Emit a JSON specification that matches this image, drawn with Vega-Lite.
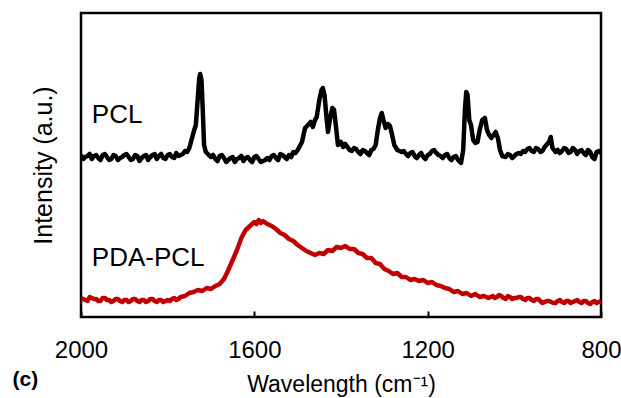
{
  "$schema": "https://vega.github.io/schema/vega-lite/v6.json",
  "width": 520,
  "height": 304,
  "autosize": {"type": "none"},
  "padding": {"left": 81, "top": 13, "right": 20, "bottom": 81},
  "background": "white",
  "config": {
    "font": "Liberation Sans",
    "view": {"stroke": "#000000", "strokeWidth": 2.5}
  },
  "datasets": {
    "spectra": [
      {"s":"PCL","w":2000,"v":162},{"s":"PCL","w":1990,"v":160},{"s":"PCL","w":1980,"v":163},{"s":"PCL","w":1970,"v":161},{"s":"PCL","w":1960,"v":159},{"s":"PCL","w":1950,"v":162},{"s":"PCL","w":1940,"v":160},{"s":"PCL","w":1930,"v":158},{"s":"PCL","w":1920,"v":161},{"s":"PCL","w":1910,"v":159},{"s":"PCL","w":1900,"v":162},{"s":"PCL","w":1890,"v":160},{"s":"PCL","w":1880,"v":158},{"s":"PCL","w":1870,"v":161},{"s":"PCL","w":1860,"v":159},{"s":"PCL","w":1850,"v":162},{"s":"PCL","w":1840,"v":160},{"s":"PCL","w":1830,"v":163},{"s":"PCL","w":1820,"v":161},{"s":"PCL","w":1810,"v":159},{"s":"PCL","w":1800,"v":162},{"s":"PCL","w":1790,"v":160},{"s":"PCL","w":1780,"v":164},{"s":"PCL","w":1770,"v":162},{"s":"PCL","w":1760,"v":166},{"s":"PCL","w":1750,"v":169},{"s":"PCL","w":1745,"v":177},{"s":"PCL","w":1740,"v":185},{"s":"PCL","w":1735,"v":192},{"s":"PCL","w":1730,"v":222},{"s":"PCL","w":1727,"v":239},{"s":"PCL","w":1725,"v":243},{"s":"PCL","w":1722,"v":237},{"s":"PCL","w":1719,"v":207},{"s":"PCL","w":1716,"v":172},{"s":"PCL","w":1712,"v":165},{"s":"PCL","w":1705,"v":162},{"s":"PCL","w":1700,"v":160},{"s":"PCL","w":1690,"v":158},{"s":"PCL","w":1680,"v":161},{"s":"PCL","w":1670,"v":159},{"s":"PCL","w":1660,"v":157},{"s":"PCL","w":1650,"v":160},{"s":"PCL","w":1640,"v":158},{"s":"PCL","w":1630,"v":161},{"s":"PCL","w":1620,"v":159},{"s":"PCL","w":1610,"v":157},{"s":"PCL","w":1600,"v":160},{"s":"PCL","w":1590,"v":158},{"s":"PCL","w":1580,"v":156},{"s":"PCL","w":1570,"v":159},{"s":"PCL","w":1560,"v":161},{"s":"PCL","w":1550,"v":159},{"s":"PCL","w":1540,"v":163},{"s":"PCL","w":1530,"v":160},{"s":"PCL","w":1520,"v":162},{"s":"PCL","w":1510,"v":165},{"s":"PCL","w":1500,"v":167},{"s":"PCL","w":1490,"v":175},{"s":"PCL","w":1483,"v":189},{"s":"PCL","w":1476,"v":192},{"s":"PCL","w":1470,"v":195},{"s":"PCL","w":1465,"v":190},{"s":"PCL","w":1460,"v":197},{"s":"PCL","w":1456,"v":200},{"s":"PCL","w":1450,"v":217},{"s":"PCL","w":1445,"v":227},{"s":"PCL","w":1442,"v":229},{"s":"PCL","w":1438,"v":222},{"s":"PCL","w":1434,"v":202},{"s":"PCL","w":1430,"v":185},{"s":"PCL","w":1425,"v":199},{"s":"PCL","w":1420,"v":209},{"s":"PCL","w":1416,"v":207},{"s":"PCL","w":1412,"v":192},{"s":"PCL","w":1407,"v":172},{"s":"PCL","w":1400,"v":175},{"s":"PCL","w":1395,"v":170},{"s":"PCL","w":1390,"v":173},{"s":"PCL","w":1380,"v":167},{"s":"PCL","w":1370,"v":169},{"s":"PCL","w":1360,"v":165},{"s":"PCL","w":1350,"v":167},{"s":"PCL","w":1340,"v":164},{"s":"PCL","w":1330,"v":167},{"s":"PCL","w":1320,"v":172},{"s":"PCL","w":1315,"v":187},{"s":"PCL","w":1310,"v":199},{"s":"PCL","w":1306,"v":204},{"s":"PCL","w":1302,"v":197},{"s":"PCL","w":1297,"v":189},{"s":"PCL","w":1292,"v":193},{"s":"PCL","w":1287,"v":191},{"s":"PCL","w":1282,"v":182},{"s":"PCL","w":1277,"v":172},{"s":"PCL","w":1270,"v":167},{"s":"PCL","w":1260,"v":165},{"s":"PCL","w":1250,"v":163},{"s":"PCL","w":1240,"v":164},{"s":"PCL","w":1230,"v":161},{"s":"PCL","w":1220,"v":162},{"s":"PCL","w":1210,"v":160},{"s":"PCL","w":1200,"v":162},{"s":"PCL","w":1190,"v":166},{"s":"PCL","w":1180,"v":164},{"s":"PCL","w":1170,"v":161},{"s":"PCL","w":1160,"v":162},{"s":"PCL","w":1150,"v":159},{"s":"PCL","w":1140,"v":160},{"s":"PCL","w":1130,"v":157},{"s":"PCL","w":1123,"v":154},{"s":"PCL","w":1118,"v":167},{"s":"PCL","w":1114,"v":207},{"s":"PCL","w":1111,"v":225},{"s":"PCL","w":1108,"v":222},{"s":"PCL","w":1104,"v":197},{"s":"PCL","w":1100,"v":192},{"s":"PCL","w":1095,"v":177},{"s":"PCL","w":1090,"v":174},{"s":"PCL","w":1085,"v":175},{"s":"PCL","w":1080,"v":187},{"s":"PCL","w":1074,"v":197},{"s":"PCL","w":1068,"v":199},{"s":"PCL","w":1063,"v":187},{"s":"PCL","w":1058,"v":182},{"s":"PCL","w":1053,"v":179},{"s":"PCL","w":1048,"v":182},{"s":"PCL","w":1043,"v":185},{"s":"PCL","w":1038,"v":179},{"s":"PCL","w":1033,"v":167},{"s":"PCL","w":1028,"v":161},{"s":"PCL","w":1020,"v":160},{"s":"PCL","w":1010,"v":162},{"s":"PCL","w":1000,"v":161},{"s":"PCL","w":990,"v":164},{"s":"PCL","w":980,"v":166},{"s":"PCL","w":970,"v":168},{"s":"PCL","w":960,"v":166},{"s":"PCL","w":950,"v":169},{"s":"PCL","w":940,"v":165},{"s":"PCL","w":930,"v":170},{"s":"PCL","w":920,"v":175},{"s":"PCL","w":916,"v":180},{"s":"PCL","w":912,"v":169},{"s":"PCL","w":905,"v":165},{"s":"PCL","w":900,"v":167},{"s":"PCL","w":890,"v":166},{"s":"PCL","w":880,"v":168},{"s":"PCL","w":870,"v":165},{"s":"PCL","w":860,"v":167},{"s":"PCL","w":850,"v":166},{"s":"PCL","w":840,"v":164},{"s":"PCL","w":830,"v":167},{"s":"PCL","w":820,"v":160},{"s":"PCL","w":810,"v":165},{"s":"PCL","w":800,"v":164},
      {"s":"PCL","w":1995,"v":158},{"s":"PCL","w":1985,"v":161},{"s":"PCL","w":1975,"v":158},{"s":"PCL","w":1965,"v":162},{"s":"PCL","w":1955,"v":157},{"s":"PCL","w":1945,"v":163},{"s":"PCL","w":1935,"v":157},{"s":"PCL","w":1925,"v":162},{"s":"PCL","w":1915,"v":157},{"s":"PCL","w":1905,"v":160},{"s":"PCL","w":1895,"v":163},{"s":"PCL","w":1885,"v":157},{"s":"PCL","w":1875,"v":162},{"s":"PCL","w":1865,"v":156},{"s":"PCL","w":1855,"v":161},{"s":"PCL","w":1845,"v":157},{"s":"PCL","w":1835,"v":162},{"s":"PCL","w":1825,"v":158},{"s":"PCL","w":1815,"v":163},{"s":"PCL","w":1805,"v":158},{"s":"PCL","w":1795,"v":163},{"s":"PCL","w":1785,"v":159},{"s":"PCL","w":1775,"v":161},{"s":"PCL","w":1765,"v":163},{"s":"PCL","w":1755,"v":165},
      {"s":"PCL","w":1695,"v":162},{"s":"PCL","w":1685,"v":156},{"s":"PCL","w":1675,"v":162},{"s":"PCL","w":1665,"v":155},{"s":"PCL","w":1655,"v":159},{"s":"PCL","w":1645,"v":155},{"s":"PCL","w":1635,"v":159},{"s":"PCL","w":1625,"v":156},{"s":"PCL","w":1615,"v":160},{"s":"PCL","w":1605,"v":155},{"s":"PCL","w":1595,"v":161},{"s":"PCL","w":1585,"v":155},{"s":"PCL","w":1575,"v":157},{"s":"PCL","w":1565,"v":157},{"s":"PCL","w":1555,"v":162},{"s":"PCL","w":1545,"v":157},{"s":"PCL","w":1535,"v":162},{"s":"PCL","w":1525,"v":158},{"s":"PCL","w":1515,"v":160},{"s":"PCL","w":1505,"v":164},
      {"s":"PCL","w":1375,"v":166},{"s":"PCL","w":1365,"v":168},{"s":"PCL","w":1355,"v":163},{"s":"PCL","w":1345,"v":166},{"s":"PCL","w":1335,"v":162},{"s":"PCL","w":1325,"v":168},
      {"s":"PCL","w":1255,"v":166},{"s":"PCL","w":1245,"v":161},{"s":"PCL","w":1235,"v":165},{"s":"PCL","w":1225,"v":159},{"s":"PCL","w":1215,"v":164},{"s":"PCL","w":1205,"v":158},{"s":"PCL","w":1195,"v":163},{"s":"PCL","w":1185,"v":167},{"s":"PCL","w":1175,"v":162},{"s":"PCL","w":1165,"v":159},{"s":"PCL","w":1155,"v":163},{"s":"PCL","w":1145,"v":157},{"s":"PCL","w":1135,"v":161},
      {"s":"PCL","w":1015,"v":163},{"s":"PCL","w":1005,"v":159},{"s":"PCL","w":995,"v":163},{"s":"PCL","w":985,"v":163},{"s":"PCL","w":975,"v":165},{"s":"PCL","w":965,"v":169},{"s":"PCL","w":955,"v":165},{"s":"PCL","w":945,"v":168},{"s":"PCL","w":935,"v":166},{"s":"PCL","w":895,"v":164},{"s":"PCL","w":885,"v":169},{"s":"PCL","w":875,"v":164},{"s":"PCL","w":865,"v":169},{"s":"PCL","w":855,"v":163},{"s":"PCL","w":845,"v":167},{"s":"PCL","w":835,"v":162},{"s":"PCL","w":825,"v":165},{"s":"PCL","w":815,"v":158},{"s":"PCL","w":805,"v":166},
      {"s":"PDA-PCL","w":2000,"v":19},{"s":"PDA-PCL","w":1990,"v":17},{"s":"PDA-PCL","w":1980,"v":20},{"s":"PDA-PCL","w":1970,"v":18},{"s":"PDA-PCL","w":1960,"v":16},{"s":"PDA-PCL","w":1950,"v":19},{"s":"PDA-PCL","w":1940,"v":17},{"s":"PDA-PCL","w":1930,"v":15},{"s":"PDA-PCL","w":1920,"v":18},{"s":"PDA-PCL","w":1910,"v":16},{"s":"PDA-PCL","w":1900,"v":17},{"s":"PDA-PCL","w":1890,"v":15},{"s":"PDA-PCL","w":1880,"v":18},{"s":"PDA-PCL","w":1870,"v":16},{"s":"PDA-PCL","w":1860,"v":17},{"s":"PDA-PCL","w":1850,"v":15},{"s":"PDA-PCL","w":1840,"v":18},{"s":"PDA-PCL","w":1830,"v":16},{"s":"PDA-PCL","w":1820,"v":17},{"s":"PDA-PCL","w":1810,"v":15},{"s":"PDA-PCL","w":1800,"v":17},{"s":"PDA-PCL","w":1790,"v":18},{"s":"PDA-PCL","w":1780,"v":17},{"s":"PDA-PCL","w":1770,"v":20},{"s":"PDA-PCL","w":1760,"v":21},{"s":"PDA-PCL","w":1750,"v":24},{"s":"PDA-PCL","w":1740,"v":25},{"s":"PDA-PCL","w":1730,"v":27},{"s":"PDA-PCL","w":1720,"v":26},{"s":"PDA-PCL","w":1710,"v":29},{"s":"PDA-PCL","w":1700,"v":28},{"s":"PDA-PCL","w":1690,"v":31},{"s":"PDA-PCL","w":1680,"v":33},{"s":"PDA-PCL","w":1670,"v":38},{"s":"PDA-PCL","w":1660,"v":47},{"s":"PDA-PCL","w":1650,"v":57},{"s":"PDA-PCL","w":1640,"v":67},{"s":"PDA-PCL","w":1630,"v":79},{"s":"PDA-PCL","w":1620,"v":87},{"s":"PDA-PCL","w":1610,"v":91},{"s":"PDA-PCL","w":1600,"v":95},{"s":"PDA-PCL","w":1595,"v":93},{"s":"PDA-PCL","w":1590,"v":97},{"s":"PDA-PCL","w":1585,"v":94},{"s":"PDA-PCL","w":1580,"v":96},{"s":"PDA-PCL","w":1570,"v":93},{"s":"PDA-PCL","w":1560,"v":91},{"s":"PDA-PCL","w":1550,"v":88},{"s":"PDA-PCL","w":1540,"v":84},{"s":"PDA-PCL","w":1530,"v":82},{"s":"PDA-PCL","w":1520,"v":78},{"s":"PDA-PCL","w":1510,"v":76},{"s":"PDA-PCL","w":1500,"v":72},{"s":"PDA-PCL","w":1490,"v":69},{"s":"PDA-PCL","w":1480,"v":66},{"s":"PDA-PCL","w":1470,"v":64},{"s":"PDA-PCL","w":1460,"v":62},{"s":"PDA-PCL","w":1450,"v":64},{"s":"PDA-PCL","w":1440,"v":63},{"s":"PDA-PCL","w":1430,"v":67},{"s":"PDA-PCL","w":1420,"v":66},{"s":"PDA-PCL","w":1410,"v":70},{"s":"PDA-PCL","w":1400,"v":69},{"s":"PDA-PCL","w":1390,"v":71},{"s":"PDA-PCL","w":1380,"v":68},{"s":"PDA-PCL","w":1370,"v":68},{"s":"PDA-PCL","w":1360,"v":64},{"s":"PDA-PCL","w":1350,"v":63},{"s":"PDA-PCL","w":1340,"v":59},{"s":"PDA-PCL","w":1330,"v":59},{"s":"PDA-PCL","w":1320,"v":54},{"s":"PDA-PCL","w":1310,"v":53},{"s":"PDA-PCL","w":1300,"v":48},{"s":"PDA-PCL","w":1290,"v":46},{"s":"PDA-PCL","w":1280,"v":43},{"s":"PDA-PCL","w":1270,"v":44},{"s":"PDA-PCL","w":1260,"v":40},{"s":"PDA-PCL","w":1250,"v":40},{"s":"PDA-PCL","w":1240,"v":37},{"s":"PDA-PCL","w":1230,"v":38},{"s":"PDA-PCL","w":1220,"v":36},{"s":"PDA-PCL","w":1210,"v":37},{"s":"PDA-PCL","w":1200,"v":34},{"s":"PDA-PCL","w":1190,"v":35},{"s":"PDA-PCL","w":1180,"v":32},{"s":"PDA-PCL","w":1170,"v":31},{"s":"PDA-PCL","w":1160,"v":29},{"s":"PDA-PCL","w":1150,"v":28},{"s":"PDA-PCL","w":1140,"v":25},{"s":"PDA-PCL","w":1130,"v":26},{"s":"PDA-PCL","w":1120,"v":23},{"s":"PDA-PCL","w":1110,"v":24},{"s":"PDA-PCL","w":1100,"v":21},{"s":"PDA-PCL","w":1090,"v":23},{"s":"PDA-PCL","w":1080,"v":20},{"s":"PDA-PCL","w":1070,"v":21},{"s":"PDA-PCL","w":1060,"v":19},{"s":"PDA-PCL","w":1050,"v":21},{"s":"PDA-PCL","w":1040,"v":20},{"s":"PDA-PCL","w":1030,"v":21},{"s":"PDA-PCL","w":1020,"v":18},{"s":"PDA-PCL","w":1010,"v":20},{"s":"PDA-PCL","w":1000,"v":19},{"s":"PDA-PCL","w":990,"v":20},{"s":"PDA-PCL","w":980,"v":18},{"s":"PDA-PCL","w":970,"v":19},{"s":"PDA-PCL","w":960,"v":17},{"s":"PDA-PCL","w":950,"v":18},{"s":"PDA-PCL","w":940,"v":16},{"s":"PDA-PCL","w":930,"v":15},{"s":"PDA-PCL","w":920,"v":16},{"s":"PDA-PCL","w":910,"v":14},{"s":"PDA-PCL","w":900,"v":16},{"s":"PDA-PCL","w":890,"v":15},{"s":"PDA-PCL","w":880,"v":16},{"s":"PDA-PCL","w":870,"v":14},{"s":"PDA-PCL","w":860,"v":16},{"s":"PDA-PCL","w":850,"v":15},{"s":"PDA-PCL","w":840,"v":16},{"s":"PDA-PCL","w":830,"v":14},{"s":"PDA-PCL","w":820,"v":15},{"s":"PDA-PCL","w":810,"v":14},{"s":"PDA-PCL","w":800,"v":16},
      {"s":"PDA-PCL","w":1995,"v":18},{"s":"PDA-PCL","w":1985,"v":16},{"s":"PDA-PCL","w":1975,"v":19},{"s":"PDA-PCL","w":1965,"v":18},{"s":"PDA-PCL","w":1955,"v":16},{"s":"PDA-PCL","w":1945,"v":19},{"s":"PDA-PCL","w":1935,"v":17},{"s":"PDA-PCL","w":1925,"v":16},{"s":"PDA-PCL","w":1915,"v":18},{"s":"PDA-PCL","w":1905,"v":15},{"s":"PDA-PCL","w":1895,"v":17},{"s":"PDA-PCL","w":1885,"v":16},{"s":"PDA-PCL","w":1875,"v":18},{"s":"PDA-PCL","w":1865,"v":15},{"s":"PDA-PCL","w":1855,"v":17},{"s":"PDA-PCL","w":1845,"v":16},{"s":"PDA-PCL","w":1835,"v":18},{"s":"PDA-PCL","w":1825,"v":15},{"s":"PDA-PCL","w":1815,"v":17},{"s":"PDA-PCL","w":1805,"v":16},{"s":"PDA-PCL","w":1795,"v":16},{"s":"PDA-PCL","w":1785,"v":19},{"s":"PDA-PCL","w":1775,"v":18},
      {"s":"PDA-PCL","w":1045,"v":19},{"s":"PDA-PCL","w":1035,"v":22},{"s":"PDA-PCL","w":1025,"v":19},{"s":"PDA-PCL","w":1015,"v":21},{"s":"PDA-PCL","w":1005,"v":18},{"s":"PDA-PCL","w":995,"v":19},{"s":"PDA-PCL","w":985,"v":20},{"s":"PDA-PCL","w":975,"v":17},{"s":"PDA-PCL","w":965,"v":19},{"s":"PDA-PCL","w":955,"v":16},{"s":"PDA-PCL","w":945,"v":18},{"s":"PDA-PCL","w":935,"v":14},{"s":"PDA-PCL","w":925,"v":16},{"s":"PDA-PCL","w":915,"v":15},{"s":"PDA-PCL","w":905,"v":14},{"s":"PDA-PCL","w":895,"v":17},{"s":"PDA-PCL","w":885,"v":14},{"s":"PDA-PCL","w":875,"v":16},{"s":"PDA-PCL","w":865,"v":15},{"s":"PDA-PCL","w":855,"v":17},{"s":"PDA-PCL","w":845,"v":14},{"s":"PDA-PCL","w":835,"v":16},{"s":"PDA-PCL","w":825,"v":13},{"s":"PDA-PCL","w":815,"v":16},{"s":"PDA-PCL","w":805,"v":15}
    ],
    "labels": [
      {"t":"PCL","w":1975,"v":194},
      {"t":"PDA-PCL","w":1975,"v":51}
    ],
    "panel": [
      {"t":"(c)","w":2158,"v":-69}
    ]
  },
  "layer": [
    {
      "data": {"name": "spectra"},
      "mark": {"type": "line", "strokeWidth": 4.5, "strokeJoin": "round", "clip": true},
      "encoding": {
        "x": {
          "field": "w", "type": "quantitative",
          "scale": {"domain": [800, 2000], "reverse": true, "nice": false, "zero": false},
          "axis": {
            "values": [2000, 1600, 1200, 800],
            "format": "d",
            "title": "Wavelength (cm⁻¹)",
            "titleFont": "Liberation Sans", "titleFontSize": 23, "titleFontWeight": "normal", "titleColor": "#000000",
            "titlePadding": 11,
            "labelFont": "Liberation Sans", "labelFontSize": 24, "labelColor": "#000000",
            "labelPadding": 27, "labelOverlap": false, "labelFlush": false,
            "domain": false, "grid": false,
            "ticks": true, "tickSize": -6, "tickWidth": 2, "tickColor": "#000000"
          }
        },
        "y": {
          "field": "v", "type": "quantitative",
          "scale": {"domain": [0, 304], "nice": false, "zero": false},
          "axis": {
            "title": "Intensity (a.u.)",
            "titleFont": "Liberation Sans", "titleFontSize": 25, "titleFontWeight": "normal", "titleColor": "#000000",
            "titlePadding": 25,
            "labels": false, "ticks": false, "domain": false, "grid": false
          }
        },
        "color": {
          "field": "s", "type": "nominal",
          "scale": {"domain": ["PCL", "PDA-PCL"], "range": ["#000000", "#C00000"]},
          "legend": null
        },
        "detail": {"field": "s"}
      }
    },
    {
      "data": {"name": "labels"},
      "mark": {"type": "text", "align": "left", "baseline": "alphabetic", "font": "Liberation Sans", "fontSize": 26, "color": "#000000"},
      "encoding": {
        "x": {"field": "w", "type": "quantitative"},
        "y": {"field": "v", "type": "quantitative"},
        "text": {"field": "t"}
      }
    },
    {
      "data": {"name": "panel"},
      "mark": {"type": "text", "align": "left", "baseline": "alphabetic", "font": "Liberation Sans", "fontSize": 21, "fontWeight": "bold", "color": "#000000"},
      "encoding": {
        "x": {"field": "w", "type": "quantitative"},
        "y": {"field": "v", "type": "quantitative"},
        "text": {"field": "t"}
      }
    }
  ]
}
